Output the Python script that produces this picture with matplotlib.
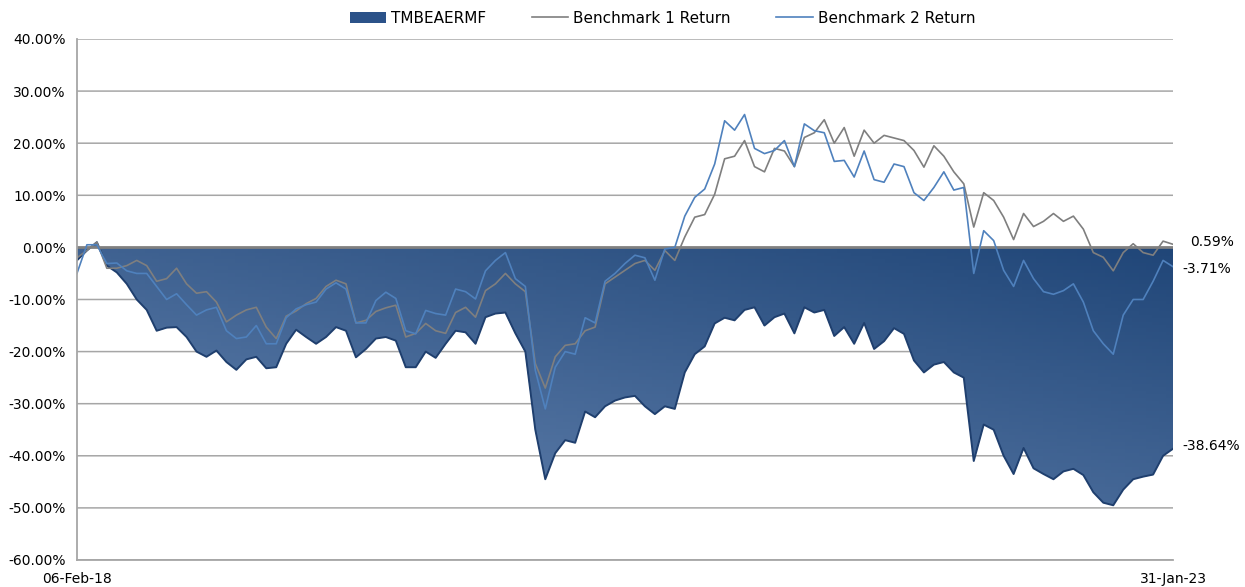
import matplotlib
matplotlib.use("Agg")
import matplotlib.pyplot as plt
import matplotlib.dates as mdates
from matplotlib.patches import Patch
from matplotlib.lines import Line2D
from matplotlib.colors import LinearSegmentedColormap
import numpy as np
import pandas as pd

# cumulative returns (%), 111 points from 06-Feb-18 to 31-Jan-23
dates = pd.date_range("2018-02-06", "2023-01-31", periods=111)

fund = [-2.5, -0.6, 1.0, -3.5, -4.8, -7.0, -10.0, -12.0, -16.0, -15.4,
        -15.3, -17.2, -20.0, -21.0, -19.8, -22.0, -23.5, -21.5, -21.0, -23.2,
        -23.0, -18.5, -15.8, -17.2, -18.5, -17.2, -15.3, -16.0, -21.1, -19.5,
        -17.5, -17.2, -17.9, -23.0, -23.0, -20.0, -21.2, -18.5, -16.0, -16.3,
        -18.5, -13.4, -12.7, -12.5, -16.5, -20.0, -35.0, -44.5, -39.5, -37.0,
        -37.5, -31.5, -32.6, -30.5, -29.4, -28.8, -28.5, -30.5, -32.0, -30.5,
        -31.0, -24.0, -20.5, -19.0, -14.6, -13.5, -14.0, -12.0, -11.5, -15.0,
        -13.4, -12.7, -16.5, -11.5, -12.5, -12.0, -17.0, -15.3, -18.5, -14.5,
        -19.5, -18.0, -15.5, -16.6, -21.7, -24.0, -22.5, -22.0, -24.0, -25.0,
        -41.0, -34.0, -35.0, -40.0, -43.5, -38.5, -42.4, -43.5, -44.5, -43.0,
        -42.5, -43.7, -47.0, -49.0, -49.5, -46.5, -44.5, -44.0, -43.6, -40.0,
        -38.64]

bench1 = [-2.0, -0.6, 1.0, -4.0, -4.0, -3.5, -2.5, -3.5, -6.5, -6.0,
          -4.0, -7.0, -8.8, -8.5, -10.5, -14.3, -13.0, -12.0, -11.5, -15.3,
          -17.5, -13.2, -12.2, -10.8, -9.8, -7.5, -6.3, -7.0, -14.5, -14.0,
          -12.3, -11.6, -11.1, -17.2, -16.5, -14.6, -16.0, -16.5, -12.5, -11.5,
          -13.4, -8.3, -7.0, -5.0, -7.0, -8.5, -22.3, -27.0, -21.0, -18.8,
          -18.5, -16.0, -15.3, -7.0, -5.7, -4.4, -3.1, -2.5, -4.4, -0.6,
          -2.5, 2.0, 5.8, 6.3, 10.2, 17.0, 17.5, 20.5, 15.5, 14.5,
          19.0, 18.5, 15.5, 21.1, 22.0, 24.5, 20.0, 23.0, 17.5, 22.5,
          20.0, 21.5, 21.0, 20.5, 18.6, 15.4, 19.5, 17.5, 14.5, 12.2,
          3.9, 10.5, 9.0, 5.8, 1.5, 6.5, 4.0, 5.0, 6.5, 5.0,
          6.0, 3.5, -1.0, -1.9, -4.5, -1.0, 0.7, -1.0, -1.5, 1.2,
          0.59]

bench2 = [-5.0, 0.5, 0.5, -3.1, -3.0, -4.5, -5.0, -5.0, -7.5, -10.0,
          -8.9, -11.0, -13.0, -12.0, -11.5, -16.0, -17.5, -17.2, -15.0, -18.5,
          -18.5, -13.5, -11.8, -11.0, -10.5, -8.0, -6.8, -8.0, -14.5, -14.5,
          -10.2, -8.6, -9.8, -16.0, -16.6, -12.1, -12.7, -13.0, -8.0, -8.5,
          -9.9, -4.5, -2.5, -1.0, -6.0, -7.5, -23.6, -31.0, -23.0, -20.0,
          -20.5, -13.5, -14.5, -6.5, -5.0, -3.1, -1.5, -2.0, -6.3, -0.3,
          0.0, 6.0, 9.6, 11.2, 16.0, 24.3, 22.5, 25.5, 19.0, 18.0,
          18.6, 20.5, 15.5, 23.7, 22.4, 22.0, 16.5, 16.7, 13.5, 18.5,
          13.0, 12.5, 16.0, 15.5, 10.5, 9.0, 11.5, 14.5, 11.0, 11.5,
          -5.0, 3.2, 1.3, -4.4, -7.5, -2.5, -6.0, -8.5, -9.0, -8.3,
          -7.0, -10.5, -16.0, -18.5, -20.5, -13.0, -10.0, -10.0, -6.5, -2.5,
          -3.71]

legend_labels = ["TMBEAERMF", "Benchmark 1 Return", "Benchmark 2 Return"]

plt.rcParams["font.family"] = "DejaVu Sans"
plt.rcParams["axes.grid"] = False
fig = plt.figure(figsize=(12.45, 5.87), dpi=100)
ax = fig.add_axes([0.0618, 0.046, 0.8804, 0.8876])
ax.set_axisbelow(True)

x = mdates.date2num(dates)
ymin, ymax = -60, 40

# gridlines: only the parts not covered by the area
xf = np.linspace(x[0], x[-1], 5000)
ff = np.interp(xf, x, fund)
for v in range(ymin, ymax + 1, 10):
    if v == 0:
        continue
    yv = np.where(ff > v, float(v), np.nan) if v < 0 else np.full_like(xf, v)
    ax.plot(xf, yv, color="#a6a6a6", lw=1.1, zorder=0.2)

# area and gradient placed well above any grid/tick artists
poly = ax.fill_between(x, 0, fund, facecolor="#2b5289", edgecolor="none", zorder=2.2)
cmap = LinearSegmentedColormap.from_list("g", ["#1f4577", "#6584b0"])
mx = np.linspace(x[0], x[-1], 161)
my = np.linspace(-52, 1, 81)
gx, gy = np.meshgrid(np.linspace(0, 1, 160), np.linspace(1, 0, 80))
grad = 0.55 * gy + 0.45 * (1 - gx)  # lighter towards bottom-left
mesh = ax.pcolormesh(mx, my, grad, cmap=cmap, vmin=0, vmax=1, shading="flat",
                     edgecolors="none", antialiased=False, zorder=2.3)
mesh.set_clip_path(poly.get_paths()[0], transform=ax.transData)
ax.plot(x, fund, color="#1f3f6e", lw=1.4, zorder=2.4)

ax.axhline(0, color="#808080", lw=2, zorder=3)

ax.plot(x, bench1, color="#7f7f7f", lw=1.2, zorder=4)
ax.plot(x, bench2, color="#4f81bd", lw=1.2, zorder=5)

ax.set_xlim(x[0], x[-1])
ax.set_ylim(ymin, ymax)
ax.set_yticks(range(ymin, ymax + 1, 10))
ax.set_yticklabels([f"{v:.2f}%" for v in range(ymin, ymax + 1, 10)])
ax.set_xticks([x[0], x[-1]])
ax.set_xticklabels([d.strftime("%d-%b-%y") for d in (dates[0], dates[-1])])
ax.tick_params(length=0, labelsize=10, colors="#000000")
ax.tick_params(axis="y", pad=8)
ax.tick_params(axis="x", pad=9)
ax.xaxis.grid(False)
ax.yaxis.grid(False)

for s in ["top", "right"]:
    ax.spines[s].set_visible(False)
for s in ["left", "bottom"]:
    ax.spines[s].set_color("#a6a6a6")
    ax.spines[s].set_linewidth(1.3)
    ax.spines[s].set_zorder(6)

# end value labels
ends = [(bench1[-1], 12, 2), (bench2[-1], 7, -2), (fund[-1], 7, 2)]
for v, dx, dy in ends:
    ax.annotate(f"{v:.2f}%", (x[-1], v), xytext=(dx, dy), textcoords="offset points",
                va="center", ha="left", fontsize=10, annotation_clip=False)

handles = [Patch(facecolor="#2b5289", edgecolor="none"),
           Line2D([], [], color="#7f7f7f", lw=1.2),
           Line2D([], [], color="#4f81bd", lw=1.2)]
fig.legend(handles, legend_labels, loc="upper center", bbox_to_anchor=(0.532, 1.005),
           ncol=3, frameon=False, fontsize=11, handlelength=2.4, handleheight=0.8,
           columnspacing=3.0, handletextpad=0.3)

fig.savefig("out.png", dpi=100)
